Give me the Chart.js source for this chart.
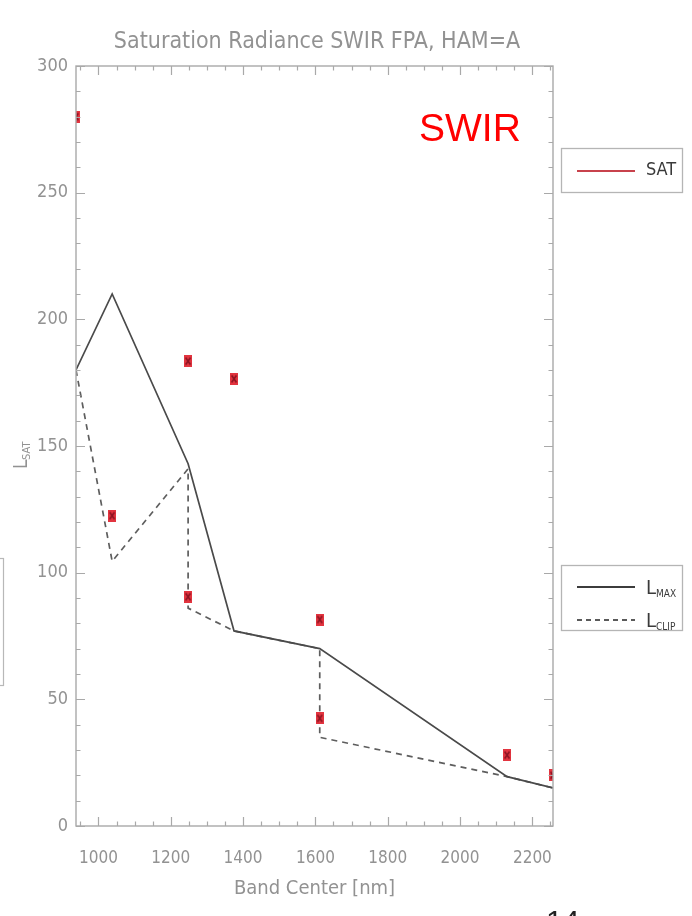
<!DOCTYPE html>
<html>
<head>
<meta charset="utf-8">
<title>Saturation Radiance SWIR FPA, HAM=A</title>
<script src="https://cdn.jsdelivr.net/npm/chart.js@4.4.1/dist/chart.umd.min.js"></script>
<style>
  html, body { margin: 0; padding: 0; background: #ffffff; }
  #wrap { position: relative; width: 692px; height: 916px; }
  canvas { display: block; }
</style>
</head>
<body>
<div id="wrap"><canvas id="chart" width="692" height="916"></canvas></div>
<script>
// Band centers (nm) and radiance levels
const lmaxBand  = [938, 1038, 1248, 1375, 1612, 2130, 2257];
const lmaxValue = [180, 210, 143, 77, 70, 19.5, 15];

const lclipBand  = [938, 1038, 1248, 1248, 1375, 1612, 1612, 2130, 2257];
const lclipValue = [180, 104.5, 141, 86, 77, 70, 35, 19.5, 15];

const satBand  = [938, 1038, 1248, 1248, 1375, 1612, 1612, 2130, 2257];
const satValue = [280, 122.5, 183.5, 90.5, 176.5, 81.5, 42.5, 28, 20];

const xTickValues = [1000, 1200, 1400, 1600, 1800, 2000, 2200];
const yTickValues = [0, 50, 100, 150, 200, 250, 300];

const xRange = [938, 2257];
const yRange = [0, 300];

const AXIS_GRAY = '#a9a9a9';
const TEXT_GRAY = '#929292';
const NARROW = "'Liberation Sans Narrow', 'DejaVu Sans Condensed', 'Liberation Sans', sans-serif";

function pairs(xs, ys) { return xs.map((x, i) => ({ x: x, y: ys[i] })); }

// red box marker with a dark cross, used for SAT points
function makeMarker() {
  const c = document.createElement('canvas');
  c.width = 8; c.height = 12;
  const g = c.getContext('2d');
  g.fillStyle = '#e2343f';
  g.fillRect(0, 0, 8, 12);
  g.strokeStyle = '#8c1422';
  g.lineWidth = 1.6;
  g.beginPath();
  g.moveTo(1.6, 2.5); g.lineTo(6.4, 9.5);
  g.moveTo(6.4, 2.5); g.lineTo(1.6, 9.5);
  g.stroke();
  return c;
}

// IDL-style box frame with inward ticks, titles, legends and annotations
const decorations = {
  id: 'decorations',
  afterDraw(chart) {
    const ctx = chart.ctx;
    const a = chart.chartArea;
    const xs = chart.scales.x, ys = chart.scales.y;
    ctx.save();

    // frame
    ctx.strokeStyle = AXIS_GRAY;
    ctx.lineWidth = 1.4;
    ctx.strokeRect(a.left, a.top, a.right - a.left, a.bottom - a.top);

    // x ticks (major + minor) on bottom and top
    ctx.lineWidth = 1.2;
    ctx.beginPath();
    for (let v = 950; v <= xRange[1]; v += 50) {
      const px = Math.round(xs.getPixelForValue(v)) + 0.5;
      const len = (v % 200 === 0) ? 9 : 4.5;
      ctx.moveTo(px, a.bottom); ctx.lineTo(px, a.bottom - len);
      ctx.moveTo(px, a.top); ctx.lineTo(px, a.top + len);
    }
    // y ticks on left and right
    for (let v = 0; v <= yRange[1]; v += 10) {
      const py = Math.round(ys.getPixelForValue(v)) + 0.5;
      const len = (v % 50 === 0) ? 9 : 4.5;
      ctx.moveTo(a.left, py); ctx.lineTo(a.left + len, py);
      ctx.moveTo(a.right, py); ctx.lineTo(a.right - len, py);
    }
    ctx.stroke();

    // chart title
    ctx.fillStyle = TEXT_GRAY;
    ctx.font = '23px ' + NARROW;
    ctx.textAlign = 'center';
    ctx.textBaseline = 'middle';
    ctx.fillText('Saturation Radiance SWIR FPA, HAM=A', 317, 42);

    // y axis title: L with subscript SAT, rotated
    ctx.save();
    ctx.translate(21, 455);
    ctx.rotate(-Math.PI / 2);
    ctx.textAlign = 'left';
    ctx.textBaseline = 'alphabetic';
    ctx.font = '19px ' + NARROW;
    ctx.fillText('L', -14, 6);
    ctx.font = '11px ' + NARROW;
    ctx.fillText('SAT', -5, 9);
    ctx.restore();

    // band label
    ctx.fillStyle = '#ff0000';
    ctx.font = '39px "Liberation Sans", Arial, sans-serif';
    ctx.textAlign = 'left';
    ctx.textBaseline = 'alphabetic';
    ctx.fillText('SWIR', 419, 141);

    // legend boxes
    ctx.strokeStyle = '#b5b5b5';
    ctx.lineWidth = 1.3;
    ctx.strokeRect(561.5, 148.5, 121, 44);
    ctx.strokeRect(561.5, 565.5, 121, 65);

    ctx.strokeStyle = '#c8424c';
    ctx.lineWidth = 2.2;
    ctx.beginPath(); ctx.moveTo(577, 171); ctx.lineTo(635, 171); ctx.stroke();

    ctx.strokeStyle = '#3c3c3c';
    ctx.lineWidth = 1.8;
    ctx.beginPath(); ctx.moveTo(577, 587); ctx.lineTo(635, 587); ctx.stroke();
    ctx.setLineDash([5, 4]);
    ctx.strokeStyle = '#5a5a5a';
    ctx.beginPath(); ctx.moveTo(577, 620); ctx.lineTo(635, 620); ctx.stroke();
    ctx.setLineDash([]);

    ctx.fillStyle = '#3a3a3a';
    ctx.font = '18px ' + NARROW;
    ctx.textBaseline = 'middle';
    ctx.fillText('SAT', 646, 170);

    ctx.textBaseline = 'alphabetic';
    ctx.font = '20px ' + NARROW;
    ctx.fillText('L', 646, 594);
    ctx.fillText('L', 646, 627);
    ctx.font = '10px ' + NARROW;
    ctx.fillText('MAX', 656, 597);
    ctx.fillText('CLIP', 656, 630);

    // partial box at the left edge
    ctx.strokeStyle = '#b8b8b8';
    ctx.lineWidth = 1.2;
    ctx.strokeRect(-40.5, 558.5, 44, 127);

    // page number at the bottom
    ctx.fillStyle = '#222222';
    ctx.font = '30px "Liberation Sans", Arial, sans-serif';
    ctx.textAlign = 'left';
    ctx.fillText('14', 546, 931);

    ctx.restore();
  }
};

const marker = makeMarker();

new Chart(document.getElementById('chart'), {
  type: 'scatter',
  data: {
    datasets: [
      {
        label: 'SAT',
        data: pairs(satBand, satValue),
        showLine: false,
        pointStyle: marker,
        pointRadius: 6,
        clip: 0,
        order: 0
      },
      {
        label: 'LMAX',
        data: pairs(lmaxBand, lmaxValue),
        showLine: true,
        borderColor: '#4a4a4a',
        borderWidth: 1.7,
        pointRadius: 0,
        tension: 0,
        clip: 0,
        order: 1
      },
      {
        label: 'LCLIP',
        data: pairs(lclipBand, lclipValue),
        showLine: true,
        borderColor: '#5e5e5e',
        borderWidth: 1.7,
        borderDash: [6, 5],
        pointRadius: 0,
        tension: 0,
        clip: 0,
        order: 2
      }
    ]
  },
  options: {
    responsive: false,
    animation: false,
    devicePixelRatio: 1,
    layout: { padding: { top: 66, right: 139, left: 0, bottom: 0 } },
    plugins: {
      legend: { display: false },
      title: { display: false },
      tooltip: { enabled: false }
    },
    scales: {
      x: {
        type: 'linear',
        min: xRange[0],
        max: xRange[1],
        afterBuildTicks: s => { s.ticks = xTickValues.map(v => ({ value: v })); },
        afterFit: s => { s.height = 90; },
        grid: { display: false, drawTicks: false },
        border: { display: false },
        ticks: {
          color: TEXT_GRAY,
          font: { family: NARROW, size: 17 },
          padding: 22,
          maxRotation: 0,
          autoSkip: false,
          callback: v => String(v)
        },
        title: {
          display: true,
          text: 'Band Center [nm]',
          color: TEXT_GRAY,
          font: { family: NARROW, size: 20 },
          padding: { top: 0, bottom: 15 }
        }
      },
      y: {
        type: 'linear',
        min: yRange[0],
        max: yRange[1],
        afterBuildTicks: s => { s.ticks = yTickValues.map(v => ({ value: v })); },
        afterFit: s => { s.width = 76; },
        grid: { display: false, drawTicks: false },
        border: { display: false },
        ticks: {
          color: TEXT_GRAY,
          font: { family: NARROW, size: 18 },
          padding: 8,
          autoSkip: false,
          callback: v => String(v)
        }
      }
    }
  },
  plugins: [decorations]
});
</script>
</body>
</html>
